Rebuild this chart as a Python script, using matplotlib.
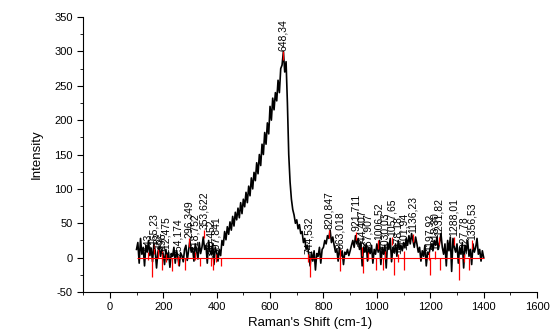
import numpy as np
import matplotlib
matplotlib.use("Agg")
import matplotlib.pyplot as plt
from matplotlib.ticker import MultipleLocator

plt.rcParams['font.family'] = ['Liberation Sans', 'DejaVu Sans']
plt.rcParams['axes.unicode_minus'] = False

# Raman spectrum, 100..1400 cm-1 every 5 cm-1
shift = np.arange(100, 1401, 5)
intensity = [
    12, 22, -8, 28, 5, 15, -12, 18, 8, 25, 3, 14, -6, 20, 10, -15, 8, 16, 2, 12,
    5, -10, 12, -3, 8, -14, 6, 2, 15, -8, 10, 0, -12, 7, 3, -6, 12, 18, -4, 10,
    25, 8, 14, -5, 20, 10, -2, 22, 6, 15, 30, 12, 18, -8, 25, 10, 4, 20, -10, 15,
    8, -5, 12, 3, 25, 18, 38, 26, 45, 34, 52, 40, 60, 46, 66, 55, 72, 58, 80, 64,
    85, 74, 95, 80, 104, 90, 116, 100, 124, 112, 138, 122, 150, 134, 165, 150, 182, 165, 196, 180,
    220, 200, 232, 215, 240, 228, 258, 240, 275, 280, 300, 270, 285, 225, 150, 110, 85, 70, 62, 50,
    55, 42, 48, 35, 38, 22, 28, 12, 18, 5, -12, 8, -5, 10, -18, 6, 2, 15, -8, 12,
    15, 25, 20, 32, 28, 40, 22, 30, 18, 8, 12, -5, 15, 2, 10, -10, 8, 5, 12, 3,
    10, 18, 25, 15, 32, 20, 28, 12, 22, -12, 15, 8, 20, -5, 14, 6, 18, -8, 12, 5,
    20, 8, 25, -10, 15, 5, 18, -15, 22, 12, 28, -6, 15, 8, 20, 2, 25, 12, 18, 10,
    22, 15, 28, 18, 32, 20, 35, 25, 15, 30, 20, 8, 15, -5, 10, 2, 18, -12, 8, 5,
    15, 20, 10, 25, 18, 30, 12, 22, 35, 15, 5, 20, -12, 25, 10, 30, -20, 28, 15, 8,
    20, -8, 15, 5, 22, -15, 18, 10, 25, 2, 12, -10, 20, 8, 15, 28, 5, 12, -5, 10,
    0,
]

# labelled peaks
peak_x = [143, 165, 182, 196, 212, 254, 296, 318, 353, 380, 397, 648,
          744, 820, 863, 921, 944, 967, 1006, 1030, 1057, 1078, 1101, 1136,
          1197, 1218, 1231, 1288, 1327, 1356]
peak_y = [8, 18, 12, 10, 5, 2, 28, 8, 40, 0, 5, 300,
          5, 40, 12, 38, 15, 8, 25, 10, 30, 5, 10, 35,
          8, 10, 30, 30, 5, 25]
peak_lbl = ["143", "165,23", "182", "196", "212,475", "254,174", "296,349",
            "318,752", "353,622", "380,452", "397,841", "648,34",
            "744,532", "820,847", "863,018", "921,711", "944,407", "967,907",
            "1006,52", "1030,03", "1057,65", "1078,18", "1101,94", "1136,23",
            "1197,92", "1218,30", "1231,82", "1288,01", "1327,78", "1356,53"]

# negative dips marked in red
dip_x = [157, 197, 232, 281, 337, 386, 415, 749, 861, 947, 996, 1022,
         1064, 1101, 1198, 1236, 1307, 1345]
dip_y = [-28, -18, -20, -18, -12, -18, -12, -28, -20, -22, -18, -18,
         -25, -18, -25, -18, -32, -18]

fig = plt.figure(figsize=(5.54, 3.33), dpi=100)
ax = fig.add_axes([0.150, 0.123, 0.8195, 0.826])

ax.plot(shift, intensity, color='black', lw=1.2)
ax.hlines(0, 100, 1400, color='red', lw=0.8)
ax.vlines(dip_x, 0, dip_y, color='red', lw=0.9)
ax.vlines(peak_x, np.array(peak_y) - 12, peak_y, color='red', lw=0.9)
for px, py, t in zip(peak_x, peak_y, peak_lbl):
    ax.text(px, py + 1, t, rotation=90, ha='center', va='bottom',
            fontsize=7.5, clip_on=False)

ax.set_xlim(-100, 1600)
ax.set_ylim(-50, 350)
ax.set_xticks(np.arange(0, 1601, 200))
ax.set_yticks(np.arange(-50, 351, 50))
ax.xaxis.set_minor_locator(MultipleLocator(100))
ax.yaxis.set_minor_locator(MultipleLocator(25))
ax.tick_params(which='both', direction='out', labelsize=8)
ax.tick_params(which='major', length=4)
ax.tick_params(which='minor', length=2.5)
ax.spines['top'].set_visible(False)
ax.spines['right'].set_visible(False)
ax.set_xlabel("Raman's Shift (cm-1)", fontsize=9.5, labelpad=3)
ax.set_ylabel("Intensity", fontsize=9.5, labelpad=8)

fig.savefig("out.png", dpi=100)
